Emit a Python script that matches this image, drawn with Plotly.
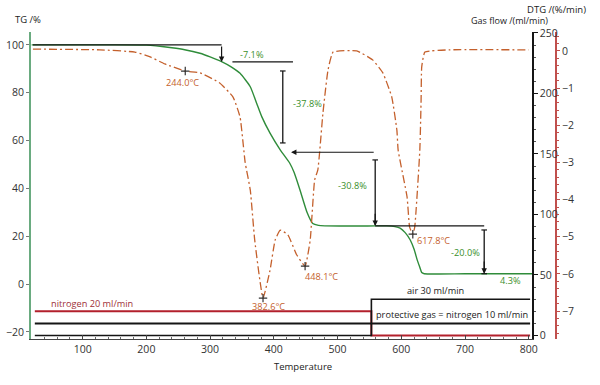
import plotly.graph_objects as go

# ---------------- data ----------------
tg_temp = [20, 150, 200, 215, 240, 260, 284, 300, 318, 333, 347, 363, 373, 381, 394, 410, 425, 432,
           441, 452, 461, 470, 480, 560, 577, 590, 598, 606, 614, 620, 625, 629, 632, 636, 700, 805]
tg_val = [100, 100, 99.9, 99.6, 98.8, 98, 96.5, 95, 93.0, 90.8, 88.1, 82.5, 75.6, 70.0, 63.1, 56.1, 50.5, 46.5,
          39.3, 30.0, 25.3, 24.5, 24.3, 24.3, 24.3, 24.0, 23.4, 21.5, 18.4, 14.5, 10.0, 7.0, 4.8, 4.3, 4.3, 4.3]

dtg_temp = [22, 127, 182, 206, 229, 261, 284, 315, 336, 347, 355, 363, 370, 383, 394, 402, 410, 422,
            436, 449, 457, 464, 469, 477, 485, 493, 530, 555, 571, 585, 593, 595, 609, 613, 618, 621,
            629, 631, 632, 637, 676, 800]
dtg_val = [0.05, 0.03, -0.03, -0.16, -0.35, -0.54, -0.59, -0.86, -1.24, -1.78, -3.0, -3.74, -5.09, -6.65,
           -5.9, -5.09, -4.82, -4.95, -5.49, -5.79, -5.09, -3.47, -3.2, -1.67, -0.51, -0.03, 0.0, -0.24,
           -0.59, -1.24, -2.13, -2.67, -3.93, -4.74, -4.93, -4.74, -2.67, -1.32, -0.43, -0.03, 0.03, 0.03]

peak_temp = [261, 383, 449, 618]
peak_dtg = [-0.54, -6.65, -5.79, -4.93]
peak_labels = ["244.0°C", "382.6°C", "448.1°C", "617.8°C"]

gas_temp = [25, 553, 553, 802]
nitrogen_purge = [20, 20, 0, 0]
air_flow = [0, 0, 30, 30]
protective_temp = [25, 802]
protective_flow = [10, 10]

# step analysis (TG levels and temperatures of the measuring lines)
tg_levels = [100, 92.9, 55.1, 24.3, 4.3]
step_labels = ["-7.1%", "-37.8%", "-30.8%", "-20.0%", "4.3%"]

x_ticks = [100, 200, 300, 400, 500, 600, 700, 800]

# ---------------- colours ----------------
GREEN = "#2f8c3a"
GREEN_TXT = "#3b8f2c"
ORANGE = "#c4602c"
RED = "#b3202c"
BLACK = "#151515"
FONT = "Open Sans"

fig = go.Figure()

# gas flows (y2)
fig.add_trace(go.Scatter(x=gas_temp, y=nitrogen_purge, yaxis="y2", mode="lines",
                         line=dict(color=RED, width=2), hoverinfo="skip"))
fig.add_trace(go.Scatter(x=gas_temp, y=air_flow, yaxis="y2", mode="lines",
                         line=dict(color=BLACK, width=1.6), hoverinfo="skip"))
fig.add_trace(go.Scatter(x=protective_temp, y=protective_flow, yaxis="y2", mode="lines",
                         line=dict(color=BLACK, width=2), hoverinfo="skip"))

# DTG (y3)
fig.add_trace(go.Scatter(x=dtg_temp, y=dtg_val, yaxis="y3", mode="lines",
                         line=dict(color=ORANGE, width=1.3, dash="8px,3px,2px,3px", shape="spline",
                                   smoothing=0.4)))
fig.add_trace(go.Scatter(x=peak_temp, y=peak_dtg, yaxis="y3", mode="markers",
                         marker=dict(symbol="cross-thin", size=6, color="#333",
                                     line=dict(color="#333", width=1.2))))

# TG (y)
fig.add_trace(go.Scatter(x=tg_temp, y=tg_val, mode="lines",
                         line=dict(color=GREEN, width=1.4, shape="spline", smoothing=0.5)))

# ---------------- step measurement lines ----------------
L = tg_levels
line_style = dict(color=BLACK, width=1.3)
segments = [
    (22, L[0], 318, L[0]),
    (335, L[1], 430, L[1]),
    (414, 89.1, 414, 59.0),
    (559, 51.9, 559, L[3] + 0.5),
    (559, L[3], 730, L[3]),
    (730, 22.6, 730, L[4] + 0.5),
]
for x0, y0, x1, y1 in segments:
    fig.add_shape(type="line", xref="x", yref="y", x0=x0, y0=y0, x1=x1, y1=y1, line=line_style)

# arrows
arrows = [
    (318, L[1], 318, L[0]),     # down onto 92.9
    (427, L[2], 559, L[2]),     # left onto curve at 55.1
    (559, L[3], 559, 30),       # down onto 24.3
    (730, L[4], 730, 10),       # down onto 4.3
]
for x, y, ax, ay in arrows:
    fig.add_annotation(x=x, y=y, ax=ax, ay=ay, xref="x", yref="y", axref="x", ayref="y",
                       showarrow=True, arrowhead=2, arrowsize=0.9, arrowwidth=1.2,
                       arrowcolor=BLACK, text="")
# small end ticks
fig.add_trace(go.Scatter(x=[414, 414, 559, 730, 730], y=[89.1, 59.0, 51.9, 22.6, L[4]],
                         mode="markers", marker=dict(symbol="line-ew", size=4, color=BLACK,
                                                     line=dict(color=BLACK, width=1.2))))

ANN = 9.2
# step labels
step_pos = [(366, 96.2), (452, 75.7), (523, 41.0), (701, 13.0), (772, 1.3)]
for (x, y), t in zip(step_pos, step_labels):
    fig.add_annotation(x=x, y=y, xref="x", yref="y", text=t, showarrow=False,
                       font=dict(family=FONT, size=ANN, color=GREEN_TXT))

# peak labels
peak_pos = [(256, 84.1), (391, -9.2), (474, 3.3), (651, 18.0)]
for (x, y), t in zip(peak_pos, peak_labels):
    fig.add_annotation(x=x, y=y, xref="x", yref="y", text=t, showarrow=False,
                       font=dict(family=FONT, size=ANN, color=ORANGE))

# gas labels
fig.add_annotation(x=115, y=-8.0, xref="x", yref="y", text="nitrogen 20 ml/min", showarrow=False,
                   font=dict(family=FONT, size=ANN, color="#9e2f38"))
fig.add_annotation(x=653, y=-2.9, xref="x", yref="y", text="air 30 ml/min", showarrow=False,
                   font=dict(family=FONT, size=ANN, color="#222"))
fig.add_annotation(x=680, y=-12.55, xref="x", yref="y", text="protective gas = nitrogen 10 ml/min",
                   showarrow=False, font=dict(family=FONT, size=ANN, color="#222"))

# axis titles
titles = [
    ("TG /%", -0.0057, 1.042, 9.5),
    ("Gas flow /(ml/min)", 0.912, 1.039, 9),
    ("DTG /(%/min)", 1.0, 1.072, 9.5),
    ("Temperature", 0.518, -0.088, 9.5),
]
for t, x, y, s in titles:
    fig.add_annotation(x=x, y=y, xref="paper", yref="paper", text=t, showarrow=False,
                       xanchor="center", yanchor="middle",
                       font=dict(family=FONT, size=s, color="#222"))

tickfont = dict(family=FONT, size=10.5, color="#333")
fig.update_layout(
    template="none",
    width=600, height=385,
    margin=dict(l=31, r=44, t=32, b=46, autoexpand=False),
    paper_bgcolor="white", plot_bgcolor="white",
    showlegend=False,
    font=dict(family=FONT),
    xaxis=dict(domain=[0, 0.9543], range=[19, 805], tickvals=x_ticks, showgrid=False, zeroline=False,
               automargin=False,
               showline=True, linecolor="#444", linewidth=1.2, ticks="inside", ticklen=4,
               tickcolor="#444", tickfont=tickfont,
               minor=dict(ticks="inside", ticklen=2, dtick=20, tickcolor="#666", showgrid=False)),
    yaxis=dict(range=[-23.0, 105.4], dtick=20, showgrid=False, zeroline=False, showline=True,
               automargin=False,
               linecolor="#6aab80", linewidth=2, ticks="outside", ticklen=3, tickcolor="#777",
               tickfont=tickfont),
    yaxis2=dict(range=[-2.9, 250.8], dtick=50, overlaying="y", side="right", anchor="x",
                automargin=False,
                showgrid=False, zeroline=False, showline=True, linecolor=BLACK, linewidth=1.5,
                ticks="outside", ticklen=4, tickcolor=BLACK, tickfont=tickfont,
                minor=dict(ticks="outside", ticklen=2, dtick=10, tickcolor="#555", showgrid=False)),
    yaxis3=dict(range=[-7.75, 0.51], dtick=1, overlaying="y", side="right", anchor="free",
                automargin=False,
                position=1.0, showgrid=False, zeroline=False, showline=True, linecolor="#c0504d",
                linewidth=1.6, ticks="outside", ticklen=3, tickcolor="#c0504d", tickfont=tickfont,
                minor=dict(ticks="outside", ticklen=2, dtick=0.2, tickcolor="#c0504d", showgrid=False)),
)

# remove the browser's default 8px page margin so the 600x385 figure fills the window
fig.write_html("out.html", config={"displayModeBar": False},
               post_script="document.body.style.margin='0';")
